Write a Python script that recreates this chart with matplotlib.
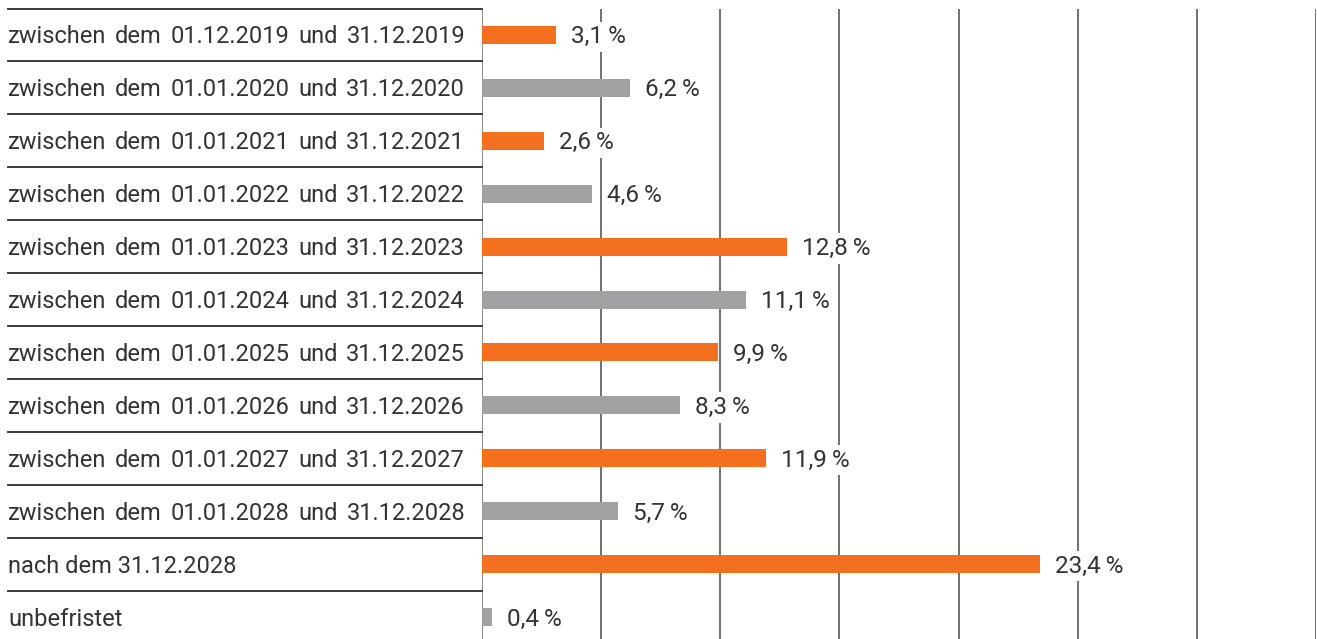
import matplotlib
matplotlib.use('Agg')
import matplotlib.pyplot as plt
from matplotlib.transforms import blended_transform_factory

plt.rcParams['font.family'] = ['Roboto', 'DejaVu Sans']

# data
labels = [
    "zwischen dem 01.12.2019 und 31.12.2019",
    "zwischen dem 01.01.2020 und 31.12.2020",
    "zwischen dem 01.01.2021 und 31.12.2021",
    "zwischen dem 01.01.2022 und 31.12.2022",
    "zwischen dem 01.01.2023 und 31.12.2023",
    "zwischen dem 01.01.2024 und 31.12.2024",
    "zwischen dem 01.01.2025 und 31.12.2025",
    "zwischen dem 01.01.2026 und 31.12.2026",
    "zwischen dem 01.01.2027 und 31.12.2027",
    "zwischen dem 01.01.2028 und 31.12.2028",
    "nach dem 31.12.2028",
    "unbefristet",
]
values = [3.1, 6.2, 2.6, 4.6, 12.8, 11.1, 9.9, 8.3, 11.9, 5.7, 23.4, 0.4]
grid_ticks = [5, 10, 15, 20, 25, 30, 35]

orange = '#F37021'
grey = '#A1A1A4'
txt = '#333333'
colors = [orange if i % 2 == 0 else grey for i in range(len(values))]

W, H = 1317, 639
fig = plt.figure(figsize=(W / 100, H / 100), dpi=100)
# rows run from y=8.5 px down to just past the bottom edge
ax = fig.add_axes([482 / W, -4.5 / H, (1316 - 482) / W, 635 / H])
ax.set_xlim(0, 35)
ax.set_ylim(len(values) - 0.5, -0.5)
ax.axis('off')

ypos = list(range(len(values)))
ax.barh(ypos, values, height=0.34, color=colors, zorder=2)

# vertical grid
ax.axvline(0, color='#8a8a8a', lw=1.4, zorder=1)
for t in grid_ticks:
    ax.axvline(t, color='#4a4a4a', lw=1.1, zorder=1)

# value labels
for y, v in zip(ypos, values):
    s = f"{v:.1f}".replace('.', ',') + "\u2009%"
    ax.annotate(s, (v, y), xytext=(15, -2), textcoords='offset pixels',
                ha='left', va='center', fontsize=17.5, color=txt, zorder=3,
                bbox=dict(boxstyle='square,pad=0.15', fc='white', ec='none'))

# row separators on the left
tr = blended_transform_factory(fig.transFigure, ax.transData)
for i in range(len(values)):
    fig.add_artist(plt.Line2D([8 / W, 482 / W], [i - 0.5, i - 0.5], transform=tr,
                              color='#2b2b2b', lw=1.3))

# category labels (justified for the long ones)
fig.canvas.draw()
renderer = fig.canvas.get_renderer()
x0, x1 = 8, 465
fs = 17
for y, lab in zip(ypos, labels):
    yd = (ax.transData.transform((0, y))[1] - 2) / H
    if lab.startswith('zwischen'):
        words = lab.split(' ')
        arts = [fig.text(0, yd, w, fontsize=fs, color=txt, va='center') for w in words]
        widths = [a.get_window_extent(renderer).width for a in arts]
        gap = (x1 - x0 - sum(widths)) / (len(words) - 1)
        x = x0
        for a, w in zip(arts, widths):
            a.set_x(x / W)
            x += w + gap
    else:
        fig.text(x0 / W, yd, lab, fontsize=fs, color=txt, va='center')

fig.savefig('out.png', dpi=100)
